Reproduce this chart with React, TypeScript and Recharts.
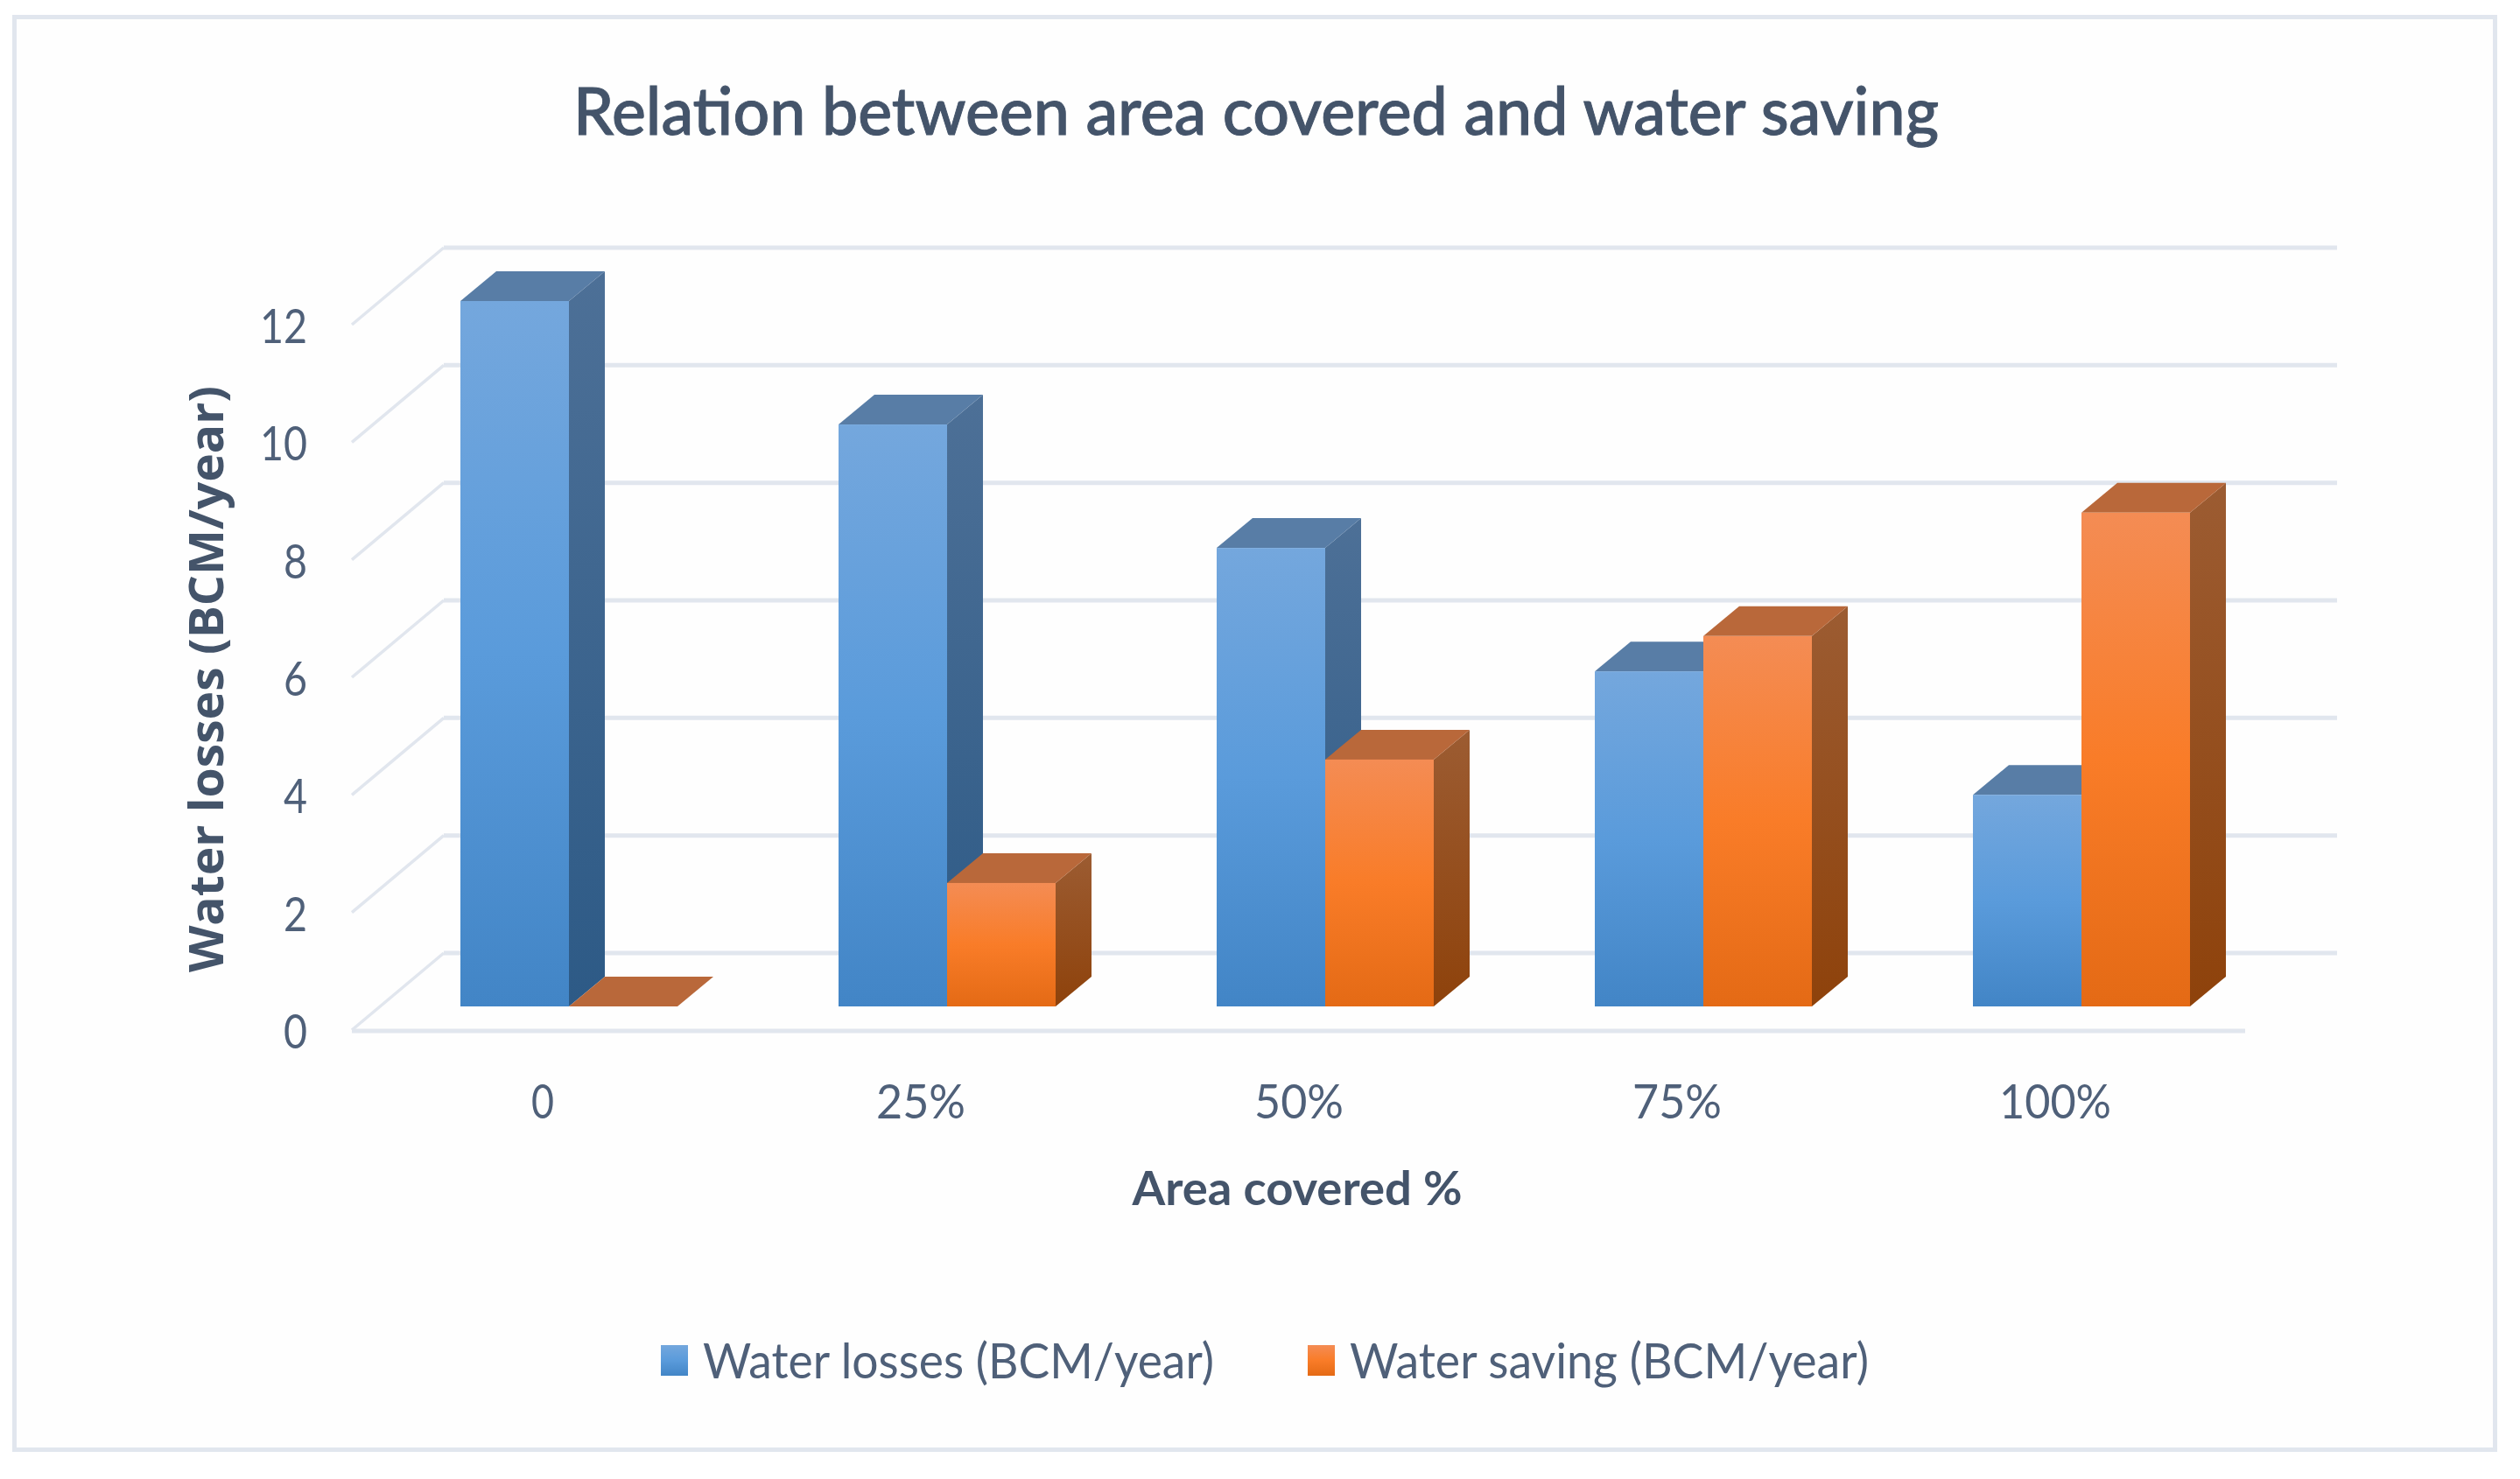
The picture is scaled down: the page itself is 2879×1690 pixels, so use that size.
import React from "react";
import { BarChart, Bar, XAxis, YAxis, Legend, CartesianGrid } from "recharts";

const categories = ["0", "25%", "50%", "75%", "100%"];
const waterLosses = [12, 9.9, 7.8, 5.7, 3.6];
const waterSaving = [0, 2.1, 4.2, 6.3, 8.4];
const yTicks = [0, 2, 4, 6, 8, 10, 12];
const titleText = "Relation between area covered and water saving";
const xTitle = "Area covered %";
const yTitle = "Water losses (BCM/year)";
const lossName = "Water losses (BCM/year)";
const savingName = "Water saving (BCM/year)";

const data = categories.map((c, i) => ({ c, loss: waterLosses[i], saving: waterSaving[i] }));

const W = 2879, H = 1690;
const DX = 41, DY = 34;
const TEXT = "#4f6079";
const DARK = "#44546a";
const GRID = "#e1e6ee";
const FONT = "Lato, 'Open Sans', sans-serif";

const blue = { front: "url(#blueFront)", side: "url(#blueSide)", top: "#587da6" };
const orange = { front: "url(#orangeFront)", side: "url(#orangeSide)", top: "#b9683a" };

const Box3D = (colors: any) => (p: any) => {
  const { x, y, width: w, height: h } = p;
  const r = x + w, b = y + h;
  return (
    <g>
      {h > 0 && <polygon points={`${r},${y} ${r + DX},${y - DY} ${r + DX},${b - DY} ${r},${b}`} fill={colors.side} />}
      <polygon points={`${x},${y} ${r},${y} ${r + DX},${y - DY} ${x + DX},${y - DY}`} fill={colors.top} />
      {h > 0 && <rect x={x} y={y} width={w} height={h} fill={colors.front} />}
    </g>
  );
};

// Back wall line, side-wall diagonal and (at the baseline) the front floor edge for each y tick.
const GridRow = (p: any) => {
  const y = p.y1;
  const isFloor = Math.abs(y - 1150) < 1;
  return (
    <g key={p.key}>
      <line x1={507} y1={y - 61} x2={2670} y2={y - 61} stroke={GRID} strokeWidth={5} />
      <line x1={402} y1={y + 27} x2={507} y2={y - 61} stroke={GRID} strokeWidth={3.5} />
      {isFloor && <line x1={402} y1={y + 28} x2={2565} y2={y + 28} stroke={GRID} strokeWidth={5} />}
    </g>
  );
};

const YTick = (p: any) => {
  const v = String(p.payload.value);
  return (
    <text x={351} y={p.y + 48} textAnchor="end" fontFamily={FONT} fontSize={55} fill={TEXT}
      textLength={v.length * 27} lengthAdjust="spacingAndGlyphs">{v}</text>
  );
};

const XTick = (p: any) => {
  const v = String(p.payload.value);
  const len = v.replace("%", "").length * 26 + (v.includes("%") ? 50 : 0);
  return (
    <text x={p.x - 30} y={1278} textAnchor="middle" fontFamily={FONT} fontSize={55} fill={TEXT}
      textLength={len} lengthAdjust="spacingAndGlyphs">{v}</text>
  );
};

const LegendContent = ({ payload }: any) => {
  const pos = [
    { sq: 755, tx: 803, len: 584 },
    { sq: 1494, tx: 1542, len: 593 },
  ];
  const fills = [blue.front, orange.front];
  return (
    <svg width={W} height={100} style={{ display: "block" }}>
      {(payload || []).map((e: any, i: number) => (
        <g key={e.value}>
          <rect x={pos[i].sq} y={17} width={31} height={35} fill={fills[i]} />
          <text x={pos[i].tx} y={55} fontFamily={FONT} fontSize={56} fill={TEXT}
            textLength={pos[i].len} lengthAdjust="spacingAndGlyphs">{e.value}</text>
        </g>
      ))}
    </svg>
  );
};

const grad = (id: string, stops: [string, string][]) => (
  <linearGradient id={id} x1="0" y1="0" x2="0" y2="1">
    {stops.map(([o, c]) => <stop key={o} offset={o} stopColor={c} />)}
  </linearGradient>
);

export default function App() {
  return (
    <div style={{ position: "absolute", left: 0, top: 0, width: W, height: H, overflow: "hidden", background: "#fff" }}>
      <div style={{ position: "absolute", left: 14, top: 17, width: 2829, height: 1632, border: "5px solid #e1e6ee", background: "#fefefe" }} />
      <div style={{ position: "absolute", left: 0, top: 0 }}>
        <BarChart width={W} height={H} data={data} barGap={0} barSize={124}
          margin={{ left: 374, right: 285, top: 344, bottom: 480 }}>
          <defs>
            {grad("blueFront", [["0", "#74a7dd"], ["0.5", "#5a9bdb"], ["1", "#4285c6"]])}
            {grad("blueSide", [["0", "#4d7097"], ["1", "#2d5a86"]])}
            {grad("orangeFront", [["0", "#f48c54"], ["0.5", "#f97c28"], ["1", "#e46a15"]])}
            {grad("orangeSide", [["0", "#9c5c32"], ["1", "#8e420b"]])}
          </defs>
          <text x={1435} y={154} textAnchor="middle" fontFamily={FONT} fontSize={76} fontWeight={500}
            fill={DARK} stroke={DARK} strokeWidth={1} textLength={1560} lengthAdjust="spacingAndGlyphs">{titleText}</text>
          <CartesianGrid vertical={false} horizontal={GridRow} />
          <YAxis type="number" domain={[0, 12]} ticks={yTicks} width={60} axisLine={false} tickLine={false}
            tick={YTick} interval={0}
            label={{ content: () => (
              <text transform="rotate(-90 255 776)" x={255} y={776} textAnchor="middle" fontFamily="'Open Sans', sans-serif"
                fontWeight={700} fontSize={53} fill={DARK} textLength={670} lengthAdjust="spacingAndGlyphs">{yTitle}</text>
            ) }} />
          <XAxis dataKey="c" height={60} axisLine={false} tickLine={false} tick={XTick} interval={0}
            label={{ content: () => (
              <text x={1482} y={1377} textAnchor="middle" fontFamily={FONT} fontWeight={700} fontSize={54}
                fill={DARK} textLength={377} lengthAdjust="spacingAndGlyphs">{xTitle}</text>
            ) }} />
          <Legend verticalAlign="middle" align="center" layout="horizontal" content={LegendContent}
            wrapperStyle={{ left: 0, top: 1520, width: W, height: 100 }} />
          <Bar dataKey="loss" name={lossName} fill="#5a9bdb" shape={Box3D(blue)} isAnimationActive={false} />
          <Bar dataKey="saving" name={savingName} fill="#f97c28" shape={Box3D(orange)} isAnimationActive={false} />
        </BarChart>
      </div>
    </div>
  );
}
